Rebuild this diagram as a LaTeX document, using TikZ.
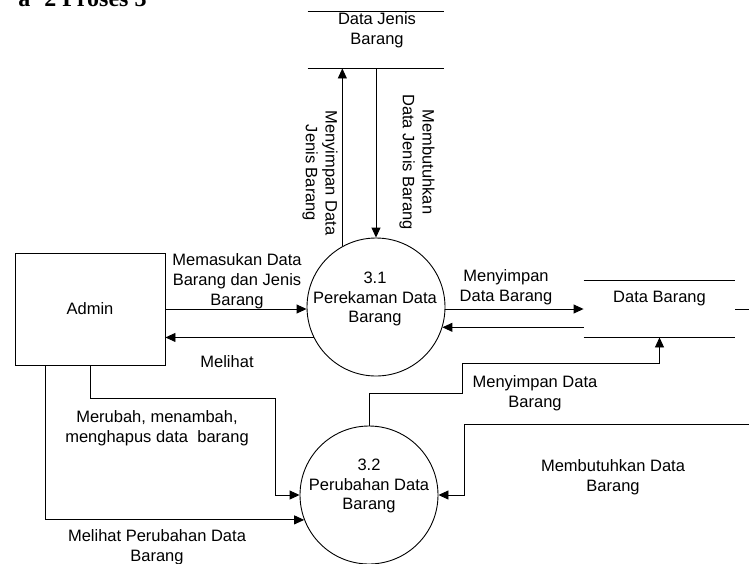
\documentclass[tikz,border=0pt]{standalone}
\usepackage{fontspec}
\setmainfont{Liberation Sans}
\newfontfamily\captionfont{Liberation Serif}
\usetikzlibrary{arrows.meta}

\begin{document}
\begin{tikzpicture}[x=1pt, y=-1pt,
  line width=0.9pt,
  flow/.style={draw, -{Triangle[length=10pt,width=9pt]}},
  lbl/.style={font=\fontsize{16.5}{19.8}\selectfont, align=center, inner sep=0pt},
  proc/.style={circle, draw, minimum size=138pt, inner sep=0pt},
  entity/.style={draw, minimum width=150pt, minimum height=112pt, inner sep=0pt,
                 font=\fontsize{16.5}{19.8}\selectfont},
  store/.style={inner sep=0pt, minimum height=56pt}
]
\useasboundingbox (0,0) rectangle (749,563);
\clip (0,0) rectangle (749,563);

% caption of the figure, running off the top edge
\node[anchor=base east, inner sep=0pt, font=\captionfont\bfseries\fontsize{24}{28}\selectfont]
  (caption) at (147,6) {a\hspace{14pt}2 Proses 3};

% external entity
\node[entity] (admin) at (90,309) {Admin};

% processes
\node[proc] (p31) at (376,307) {};
\node[lbl] (p31t) at (375,299) {3.1\\Perekaman Data\\Barang};
\node[proc] (p32) at (369,495) {};
\node[lbl] (p32t) at (369,486) {3.2\\Perubahan Data\\Barang};

% data stores (top and bottom rules only)
\node[store, minimum width=136pt] (djb) at (376,40) {};
\draw (djb.north west) -- (djb.north east) (djb.south west) -- (djb.south east);
\node[lbl] (djbt) at (377,30) {Data Jenis\\Barang};

\node[store, minimum width=151pt] (db) at (659.5,309) {};
\draw (db.north west) -- (db.north east) (db.south west) -- (db.south east);
\node[lbl] (dbt) at (659.5,299) {Data Barang};

% flows between Admin and process 3.1
\draw[flow] (admin.east) -- (admin.east -| p31.west);
\draw[flow] (p31.206.7) -- (p31.206.7 -| admin.east);

% flows between process 3.1 and Data Jenis Barang
\draw[flow] (p31.119.5) -- (p31.119.5 |- djb.south);
\draw[flow] (djb.south -| p31.north) -- (p31.north);

% flows between process 3.1 and Data Barang
\draw[flow] (p31.east |- db.west) -- (db.west);
\draw[flow] (db.west |- p31.-17.7) -- (p31.-17.7);

% process 3.2 stores into Data Barang
\draw[flow] (p32.north) -- ++(0,-32) -| (462,363) -| (db.south);

% Data Barang feeds process 3.2
\draw[flow] (db.east) -- ++(40,0) |- (464,424) |- (p32.east);

% Admin to process 3.2
\draw[flow] (admin.south) |- (275,398) |- (p32.west);
\draw[flow] ([xshift=-45pt]admin.south) |- (p32.201.2);

% flow labels
\node[lbl] (l1) at (237,281) {Memasukan Data\\Barang dan Jenis\\Barang};
\node[lbl] (l2) at (227,362) {Melihat};
\node[lbl, rotate=-90] (l3) at (320,173) {Menyimpan Data\\Jenis Barang};
\node[lbl, rotate=-90] (l4) at (417,162) {Membutuhkan\\Data Jenis Barang};
\node[lbl] (l5) at (506,287) {Menyimpan\\Data Barang};
\node[lbl] (l6) at (535,393) {Menyimpan Data\\Barang};
\node[lbl] (l7) at (613,477) {Membutuhkan Data\\Barang};
\node[lbl] (l8) at (157,428) {Merubah, menambah,\\menghapus data\ \ barang};
\node[lbl] (l9) at (157,547) {Melihat Perubahan Data\\Barang};
\end{tikzpicture}
\end{document}
